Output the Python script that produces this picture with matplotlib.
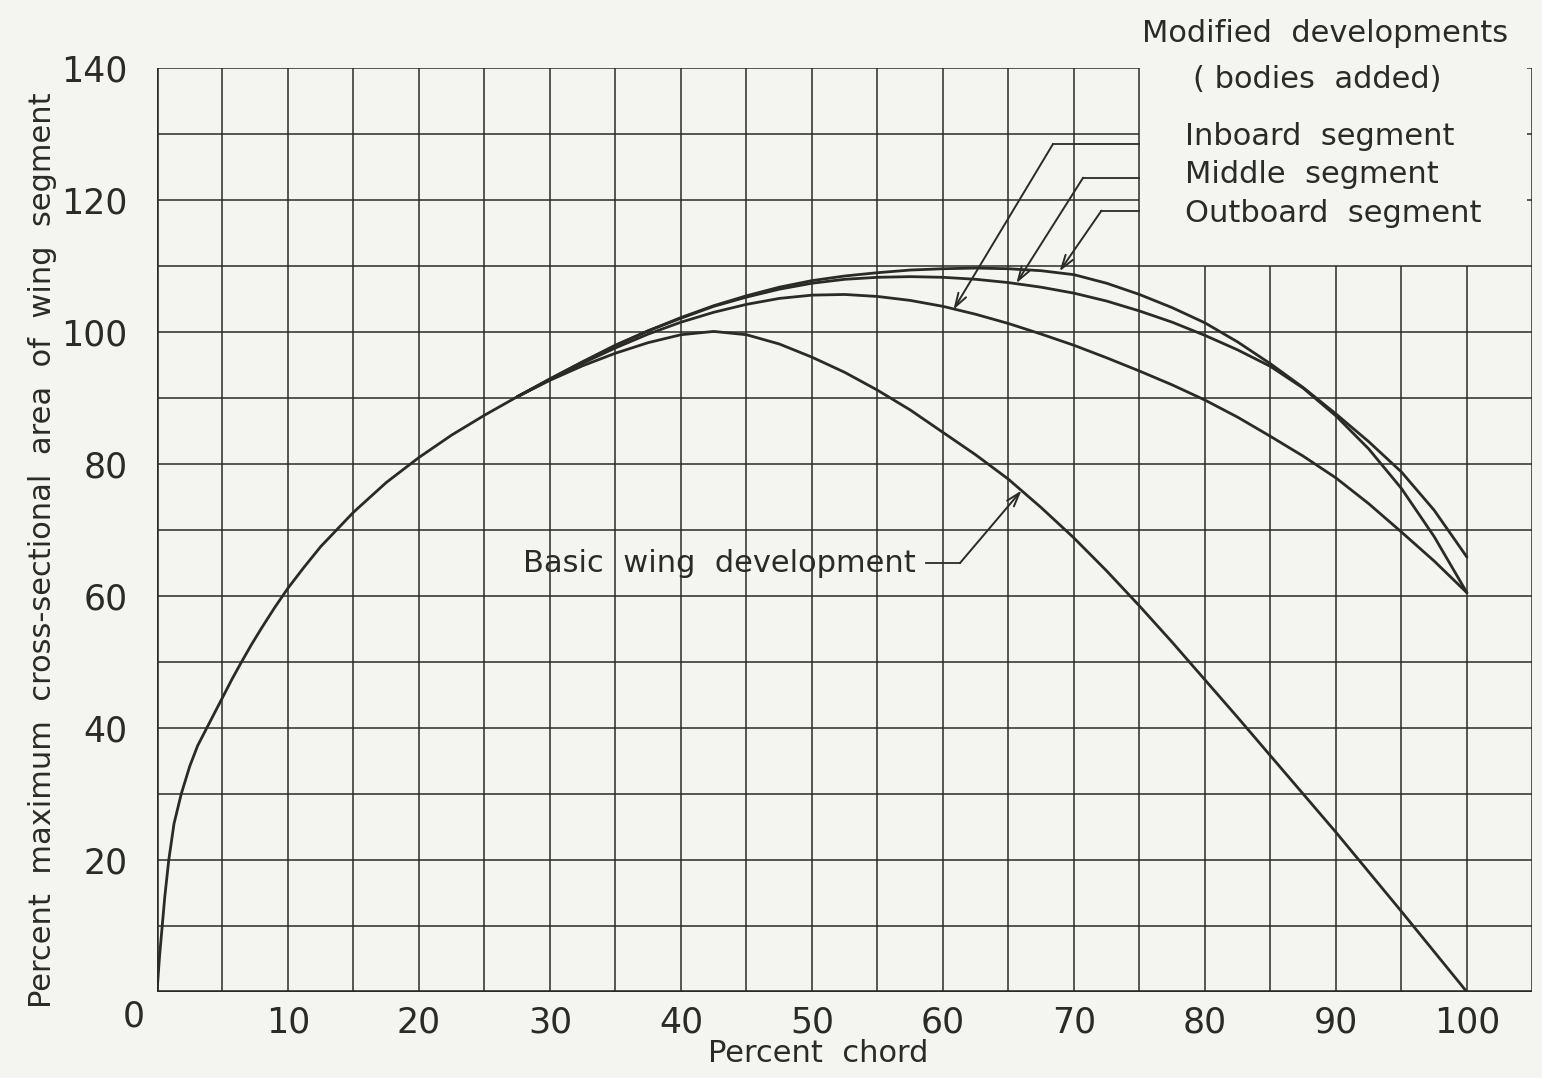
import matplotlib.pyplot as plt
import numpy as np

# Percent chord stations and percent max cross-sectional area
chord_basic = [0, 0.2, 0.4, 0.6, 0.9, 1.3, 1.85, 2.5, 3.1, 3.8, 4.4, 5, 5.7, 6.45, 7.2, 8,
               9, 10, 11.2, 12.5, 15, 17.5, 20, 22.5, 25, 27.5, 30, 32.5, 35, 37.5, 40,
               42.5, 45, 47.5, 50, 52.5, 55, 57.5, 60, 62.5, 65, 67.5, 70, 72.5, 75, 77.5,
               80, 82.5, 85, 87.5, 90, 92.5, 95, 97.5, 100]
area_basic = [0, 5.5, 10, 14.5, 20, 25.5, 30, 34.2, 37.3, 40, 42.3, 44.6, 47.3, 50, 52.6, 55.2,
              58.3, 61.2, 64.3, 67.5, 72.7, 77.2, 81, 84.4, 87.4, 90.2, 92.7, 94.9, 96.8,
              98.4, 99.6, 100.1, 99.6, 98.2, 96.2, 93.9, 91.2, 88.2, 84.8, 81.4, 77.7, 73.4,
              68.8, 63.8, 58.5, 53, 47.3, 41.6, 35.8, 30, 24.2, 18.2, 12.2, 6.1, 0]

chord_mod = [27.5, 30, 32.5, 35, 37.5, 40, 42.5, 45, 47.5, 50, 52.5, 55, 57.5, 60, 62.5,
             65, 67.5, 70, 72.5, 75, 77.5, 80, 82.5, 85, 87.5, 90, 92.5, 95, 97.5, 100]
area_outboard = [90.2, 92.9, 95.5, 98, 100.2, 102.2, 104, 105.5, 106.8, 107.8, 108.5, 109.0,
                 109.4, 109.6, 109.7, 109.6, 109.3, 108.7, 107.4, 105.7, 103.7, 101.4, 98.5,
                 95.2, 91.6, 87.6, 83.4, 78.8, 73, 65.9]
area_middle = [90.2, 92.9, 95.5, 98, 100.2, 102.1, 103.9, 105.3, 106.5, 107.4, 108, 108.3,
               108.4, 108.3, 108, 107.5, 106.8, 105.9, 104.7, 103.2, 101.5, 99.5, 97.3,
               94.8, 91.5, 87.3, 82.3, 76.3, 69, 60.5]
area_inboard = [90.2, 92.8, 95.3, 97.6, 99.7, 101.5, 103, 104.2, 105.1, 105.6, 105.7, 105.4,
                104.8, 103.9, 102.7, 101.3, 99.7, 98, 96.1, 94.1, 92, 89.7, 87.1, 84.2,
                81.2, 77.9, 74, 69.7, 65.3, 60.5]

x_ticks = [10, 20, 30, 40, 50, 60, 70, 80, 90, 100]
y_ticks = [20, 40, 60, 80, 100, 120, 140]

INK = "#2b2a27"
PAPER = "#f4f4f0"

plt.rcParams["font.family"] = "DejaVu Sans"

fig = plt.figure(figsize=(15.42, 10.78), dpi=100, facecolor=PAPER)
ax = fig.add_axes([0.1018, 0.0798, 0.892, 0.857], facecolor=PAPER)
ax.set_xlim(0, 105)
ax.set_ylim(0, 140)
for s in ax.spines.values():
    s.set_visible(False)

# graph-paper grid: full height up to 75 % chord, cut at 110 beyond (label block)
grid_kw = dict(color=INK, lw=1.1, zorder=1)
for gx in np.arange(5, 106, 5):
    ax.vlines(gx, 0, 140 if gx <= 75 or gx == 105 else 110, **grid_kw)
for gy in np.arange(10, 141, 10):
    ax.hlines(gy, 0, 75 if gy > 110 else 105, **grid_kw)
for gy in (120, 130, 140):
    ax.hlines(gy, 104.6, 105.4, **grid_kw)

# heavy axes
ax.vlines(0, 0, 140, color=INK, lw=2.6, zorder=3)
ax.hlines(0, 0, 105, color=INK, lw=2.6, zorder=3)

# curves
curve_kw = dict(color=INK, lw=2.0, solid_capstyle="round", solid_joinstyle="round", zorder=4)
ax.plot(chord_basic, area_basic, **curve_kw)
ax.plot(chord_mod, area_outboard, **curve_kw)
ax.plot(chord_mod, area_middle, **curve_kw)
ax.plot(chord_mod, area_inboard, **curve_kw)

# ticks and labels
ax.set_xticks(x_ticks, [str(t) for t in x_ticks])
ax.set_yticks(y_ticks, [str(t) for t in y_ticks])
ax.tick_params(length=0, labelsize=25, colors=INK)
ax.tick_params(axis="x", pad=10)
ax.tick_params(axis="y", pad=21)
ax.text(-1.8, -1.2, "0", fontsize=25, color=INK, ha="center", va="top", clip_on=False)

fig.text(818 / 1542, 1 - 1053 / 1078, "Percent  chord", fontsize=22, color=INK,
         ha="center", va="center")
fig.text(43 / 1542, 1 - 550 / 1078,
         "Percent  maximum  cross-sectional  area  of  wing  segment",
         fontsize=22, color=INK, rotation=90, ha="center", va="center")

# label block
txt_kw = dict(fontsize=22, color=INK, clip_on=False)
ax.text(89.2, 145.2, "Modified  developments", ha="center", va="center", **txt_kw)
ax.text(88.6, 138.3, "( bodies  added)", ha="center", va="center", **txt_kw)
ax.text(78.5, 129.6, "Inboard  segment", ha="left", va="center", **txt_kw)
ax.text(78.5, 123.9, "Middle  segment", ha="left", va="center", **txt_kw)
ax.text(78.5, 118.0, "Outboard  segment", ha="left", va="center", **txt_kw)
ax.text(57.9, 64.9, "Basic  wing  development", ha="right", va="center", **txt_kw)

# leader lines with arrowheads
leaders = [
    ((75, 128.5), (68.4, 128.5), (60.8, 103.4)),
    ((75, 123.4), (70.7, 123.4), (65.6, 107.4)),
    ((75, 118.4), (72.1, 118.4), (68.9, 109.2)),
    ((58.7, 65.0), (61.3, 65.0), (66.0, 76.0)),
]
for start, bend, tip in leaders:
    ax.plot([start[0], bend[0]], [start[1], bend[1]], color=INK, lw=1.3, zorder=5)
    ax.annotate("", xy=tip, xytext=bend,
                arrowprops=dict(arrowstyle="->,head_length=1.0,head_width=0.32",
                                color=INK, lw=1.4, shrinkA=0, shrinkB=0),
                zorder=5)

fig.savefig("out.png", dpi=100, facecolor=PAPER)
